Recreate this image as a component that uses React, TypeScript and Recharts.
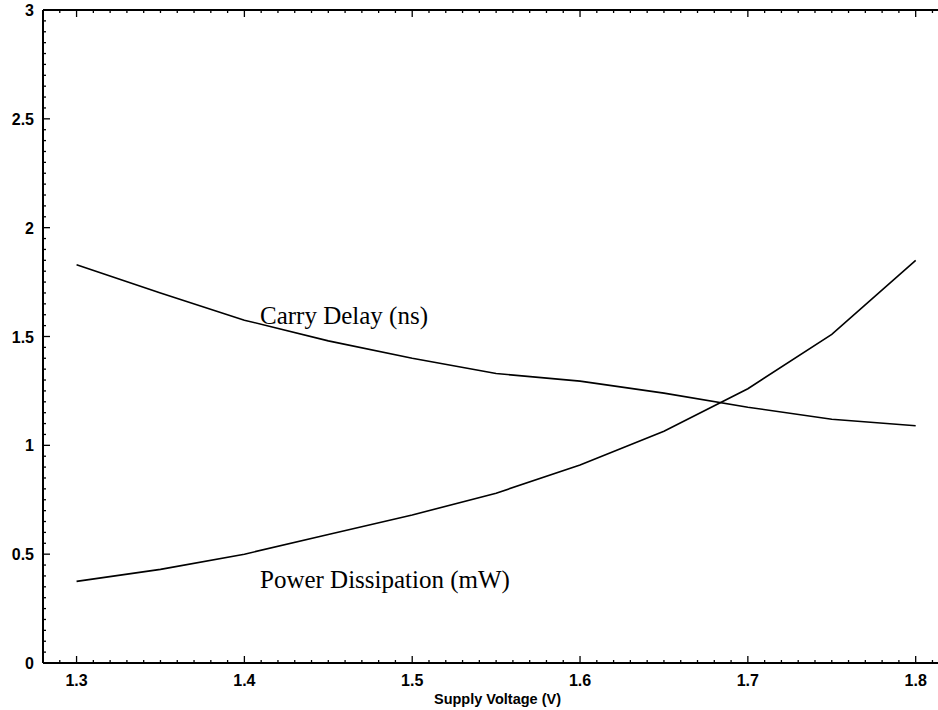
import React from 'react';
import { LineChart, Line, XAxis, YAxis, ReferenceDot } from 'recharts';

// supply voltage (V)
const voltage = [1.3, 1.35, 1.4, 1.45, 1.5, 1.55, 1.6, 1.65, 1.7, 1.75, 1.8];
// carry delay (ns)
const carryDelay = [1.83, 1.7, 1.575, 1.48, 1.4, 1.33, 1.295, 1.24, 1.175, 1.12, 1.09];
// power dissipation (mW)
const powerDissipation = [0.375, 0.43, 0.5, 0.59, 0.68, 0.78, 0.91, 1.065, 1.26, 1.51, 1.85];

const xMajorTicks = [1.3, 1.4, 1.5, 1.6, 1.7, 1.8];
const yMajorTicks = [0, 0.5, 1, 1.5, 2, 2.5, 3];

const data = voltage.map((v, i) => ({ v, delay: carryDelay[i], power: powerDissipation[i] }));

// minor tick marks: every 0.01 V and every 0.05 on the value axis
const xTicks = Array.from({ length: 54 }, (_, i) => +(1.28 + i * 0.01).toFixed(2));
const yTicks = Array.from({ length: 61 }, (_, i) => +(i * 0.05).toFixed(2));

const isMajor = (list: number[], v: number) => list.some((m) => Math.abs(m - v) < 1e-6);

const tickFont = { fontFamily: '"Liberation Sans", Arial, sans-serif', fontWeight: 700, fontSize: 16, fill: '#000' };
const serif = { fontFamily: '"Liberation Serif", "Times New Roman", serif', fontSize: 25, fill: '#000' };

const BottomTick = (props: any) => {
  const { x, y, payload } = props;
  const major = isMajor(xMajorTicks, payload.value);
  return (
    <g>
      <line x1={x} x2={x} y1={y} y2={y - (major ? 7 : 3)} stroke="#000" strokeWidth={1.3} />
      {major && (
        <text x={x} y={y + 23} textAnchor="middle" {...tickFont}>
          {payload.value.toFixed(1)}
        </text>
      )}
    </g>
  );
};

const TopTick = (props: any) => {
  const { x, y, payload } = props;
  const major = isMajor(xMajorTicks, payload.value);
  return <line x1={x} x2={x} y1={y} y2={y + (major ? 7 : 3)} stroke="#000" strokeWidth={1.3} />;
};

const LeftTick = (props: any) => {
  const { x, y, payload } = props;
  const major = isMajor(yMajorTicks, payload.value);
  return (
    <g>
      <line x1={x} x2={x + (major ? 7 : 3)} y1={y} y2={y} stroke="#000" strokeWidth={1.3} />
      {major && (
        <text x={x - 9} y={y + 6} textAnchor="end" {...tickFont}>
          {String(payload.value)}
        </text>
      )}
    </g>
  );
};

const CurveLabel = (text: string) => (p: any) => (
  <text x={p.cx} y={p.cy} {...serif}>
    {text}
  </text>
);

const App: React.FC = () => {
  return (
    <div style={{ position: 'absolute', left: 0, top: 0, width: 938, height: 710, background: '#fff' }}>
      <LineChart width={938} height={710} data={data} margin={{ top: 9, right: 0, bottom: 0, left: 0 }}>
        <XAxis
          dataKey="v"
          type="number"
          domain={[1.28, 1.8133]}
          allowDataOverflow
          ticks={xTicks}
          interval={0}
          tickSize={0}
          tickMargin={0}
          tickLine={false}
          tick={<BottomTick />}
          axisLine={{ stroke: '#000', strokeWidth: 2 }}
          height={47}
          label={{
            content: (p: any) => (
              <text
                x={p.viewBox.x + p.viewBox.width / 2 + 7}
                y={p.viewBox.y + 41}
                textAnchor="middle"
                fontFamily='"Liberation Sans", Arial, sans-serif'
                fontWeight={700}
                fontSize={14.5}
                fill="#000"
              >
                Supply Voltage (V)
              </text>
            ),
          }}
        />
        <XAxis
          xAxisId="top"
          orientation="top"
          dataKey="v"
          type="number"
          domain={[1.28, 1.8133]}
          allowDataOverflow
          ticks={xTicks}
          interval={0}
          tickSize={0}
          tickMargin={0}
          tickLine={false}
          tick={<TopTick />}
          axisLine={{ stroke: '#000', strokeWidth: 2 }}
          height={1}
        />
        <YAxis
          type="number"
          domain={[0, 3]}
          ticks={yTicks}
          interval={0}
          tickSize={0}
          tickMargin={0}
          tickLine={false}
          tick={<LeftTick />}
          axisLine={{ stroke: '#000', strokeWidth: 2 }}
          width={43}
        />
        <Line type="linear" dataKey="delay" stroke="#000" strokeWidth={1.6} dot={false} isAnimationActive={false} />
        <Line type="linear" dataKey="power" stroke="#000" strokeWidth={1.6} dot={false} isAnimationActive={false} />
        <ReferenceDot x={1.4093} y={1.557} r={0} shape={CurveLabel('Carry Delay (ns)')} />
        <ReferenceDot x={1.4093} y={0.345} r={0} shape={CurveLabel('Power Dissipation (mW)')} />
      </LineChart>
    </div>
  );
};

export default App;
